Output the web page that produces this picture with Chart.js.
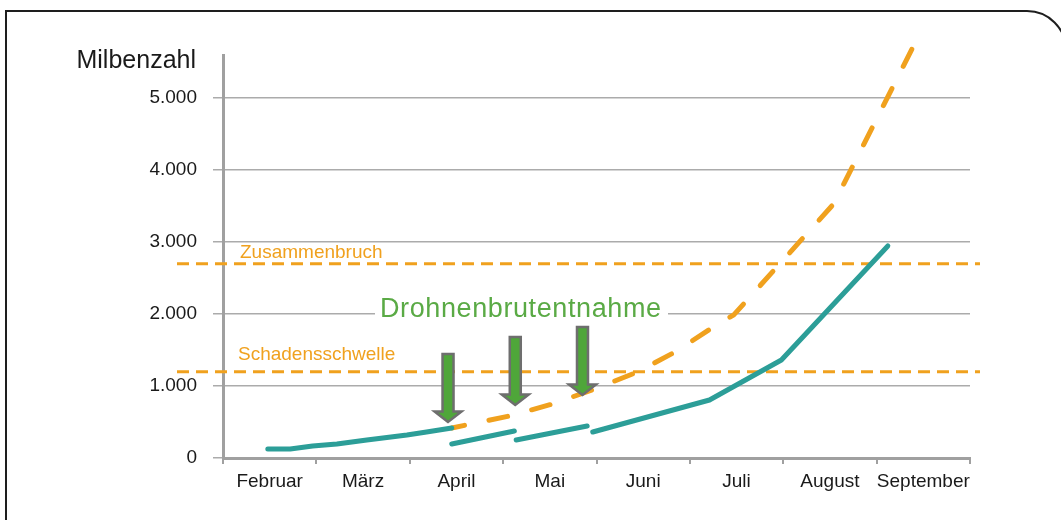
<!DOCTYPE html>
<html><head><meta charset="utf-8">
<script src="https://cdn.jsdelivr.net/npm/chart.js@4.4.1/dist/chart.umd.min.js"></script>
<style>
html,body{margin:0;padding:0;background:#fff;overflow:hidden;}
#wrap{position:relative;width:1061px;height:520px;overflow:hidden;background:#fff;}
#frame{position:absolute;left:5px;top:10px;width:1062px;height:600px;border:2px solid #1e1e1e;border-top-right-radius:40px;box-sizing:border-box;}
#c{position:absolute;left:0;top:0;}
</style></head>
<body><div id="wrap"><div id="frame"></div><canvas id="c" width="1061" height="520"></canvas></div>
<script>
// ---- data ----
const months = ['Februar','März','April','Mai','Juni','Juli','August','September'];
const yTickValues = [0,1000,2000,3000,4000,5000];
const axisTitle = 'Milbenzahl';

// teal line (with brood removal), segments in month units (0 = start of Februar)
const teal1X = [0.48,0.72,0.96,1.22,1.54,1.97,2.18,2.45];
const teal1Y = [125,125,167,195,250,320,361,417];
const teal2X = [2.45,3.12];
const teal2Y = [195,375];
const teal3X = [3.14,3.90];
const teal3Y = [250,445];
const teal4X = [3.96,5.21,5.98,7.12];
const teal4Y = [361,806,1362,2947];

// orange dashed line (without brood removal)
const orangeX = [2.45,3.07,3.53,3.98,4.44,4.86,5.25,5.47,6.54,7.39];
const orangeY = [417,584,751,959,1195,1487,1821,1988,3531,5713];

const thresholdValues = [2700,1200];
const thresholdLabels = ['Zusammenbruch','Schadensschwelle'];

const arrowX = [2.41,3.13,3.85];
const arrowY = [473,709,848];
const annotationText = 'Drohnenbrutentnahme';

// ---- styles ----
const ORANGE = '#F0A11E';
const TEAL = '#2C9E98';
const GREEN = '#4FA63A';
const GREEN_TXT = '#5AAA45';
const GRID = '#ABABAB';
const AXIS = '#A0A0A0';
const FONT = '"Liberation Sans", Arial, sans-serif';

function seg(xs, ys){ return xs.map((x,i)=>({x:x, y:ys[i]})); }
const gap = x => ({x:x, y:null});
const tealData = [].concat(seg(teal1X,teal1Y),[gap(2.45)],seg(teal2X,teal2Y),[gap(3.13)],seg(teal3X,teal3Y),[gap(3.93)],seg(teal4X,teal4Y));
const orangeData = seg(orangeX, orangeY);

const overlay = {
  id:'overlay',
  beforeDatasetsDraw(chart){
    const ctx = chart.ctx, ys = chart.scales.y;
    ctx.save();
    ctx.strokeStyle = ORANGE; ctx.lineWidth = 3; ctx.setLineDash([12,7]);
    thresholdValues.forEach(v=>{
      const py = ys.getPixelForValue(v);
      ctx.beginPath(); ctx.moveTo(177,py); ctx.lineTo(980,py); ctx.stroke();
    });
    ctx.setLineDash([]);
    ctx.fillStyle = ORANGE; ctx.font = '19px '+FONT; ctx.textAlign='left'; ctx.textBaseline='alphabetic';
    const lx = [240,238], dy = [6,11.5];
    thresholdLabels.forEach((t,i)=>{
      ctx.fillText(t, lx[i], ys.getPixelForValue(thresholdValues[i]) - dy[i]);
    });
    // annotation text with white background
    ctx.fillStyle = '#fff';
    ctx.fillRect(375, 293, 293, 30);
    ctx.fillStyle = GREEN_TXT; ctx.font = '27px '+FONT;
    try { ctx.letterSpacing = '0.6px'; } catch(e){}
    ctx.fillText(annotationText, 380, 317);
    ctx.restore();
  },
  afterDatasetsDraw(chart){
    const ctx = chart.ctx, ys = chart.scales.y, xs = chart.scales.xl;
    ctx.save();
    ctx.fillStyle = GREEN; ctx.strokeStyle = '#6E6E6E'; ctx.lineWidth = 2.5; ctx.lineJoin='miter';
    arrowX.forEach((xv,i)=>{
      const tx = xs.getPixelForValue(xv), ty = ys.getPixelForValue(arrowY[i]);
      ctx.beginPath();
      ctx.moveTo(tx, ty-2);
      ctx.lineTo(tx-13.5, ty-12.5);
      ctx.lineTo(tx-5.5, ty-12.5);
      ctx.lineTo(tx-5.5, ty-70);
      ctx.lineTo(tx+5.5, ty-70);
      ctx.lineTo(tx+5.5, ty-12.5);
      ctx.lineTo(tx+13.5, ty-12.5);
      ctx.closePath();
      ctx.fill(); ctx.stroke();
    });
    ctx.restore();
  },
  afterDraw(chart){
    const ctx = chart.ctx;
    ctx.save();
    ctx.fillStyle = '#1a1a1a'; ctx.font = '25px '+FONT; ctx.textAlign='right'; ctx.textBaseline='alphabetic';
    ctx.fillText(axisTitle, 196, 67.5);
    ctx.restore();
  }
};

new Chart(document.getElementById('c'), {
  type:'line',
  data:{
    labels: months,
    datasets:[
      {data: tealData, xAxisID:'xl', borderColor:TEAL, borderWidth:5, pointRadius:0, spanGaps:false,
       borderCapStyle:'round', borderJoinStyle:'round', tension:0, fill:false},
      {data: orangeData, xAxisID:'xl', borderColor:ORANGE, borderWidth:5, pointRadius:0,
       borderDash:[19,25], borderDashOffset:6, borderCapStyle:'round', borderJoinStyle:'round', tension:0, fill:false, clip:false}
    ]
  },
  options:{
    responsive:false, devicePixelRatio:1, animation:false,
    layout:{padding:{left:0, right:91, top:55, bottom:0}},
    plugins:{legend:{display:false}, tooltip:{enabled:false}, title:{display:false}},
    scales:{
      x:{
        type:'category', position:'bottom', offset:true,
        grid:{offset:true, drawOnChartArea:false, drawTicks:true, tickLength:6, color:AXIS, lineWidth:2},
        border:{display:true, color:AXIS, width:3},
        ticks:{color:'#1a1a1a', font:{family:FONT, size:19}, padding:6, maxRotation:0, autoSkip:false},
        afterFit(s){ s.height = 62; }
      },
      xl:{ type:'linear', display:false, min:0, max:8 },
      y:{
        min:0, max:5600,
        afterBuildTicks(s){ s.ticks = yTickValues.map(v=>({value:v})); },
        grid:{color:GRID, lineWidth:1.5, tickLength:10, drawTicks:true},
        border:{display:true, color:AXIS, width:3},
        ticks:{color:'#1a1a1a', font:{family:FONT, size:19}, padding:16,
          callback:v=> v===0 ? '0' : (v/1000)+'.000'},
        afterFit(s){ s.width = 223; }
      }
    }
  },
  plugins:[overlay]
});
</script>
</body></html>
